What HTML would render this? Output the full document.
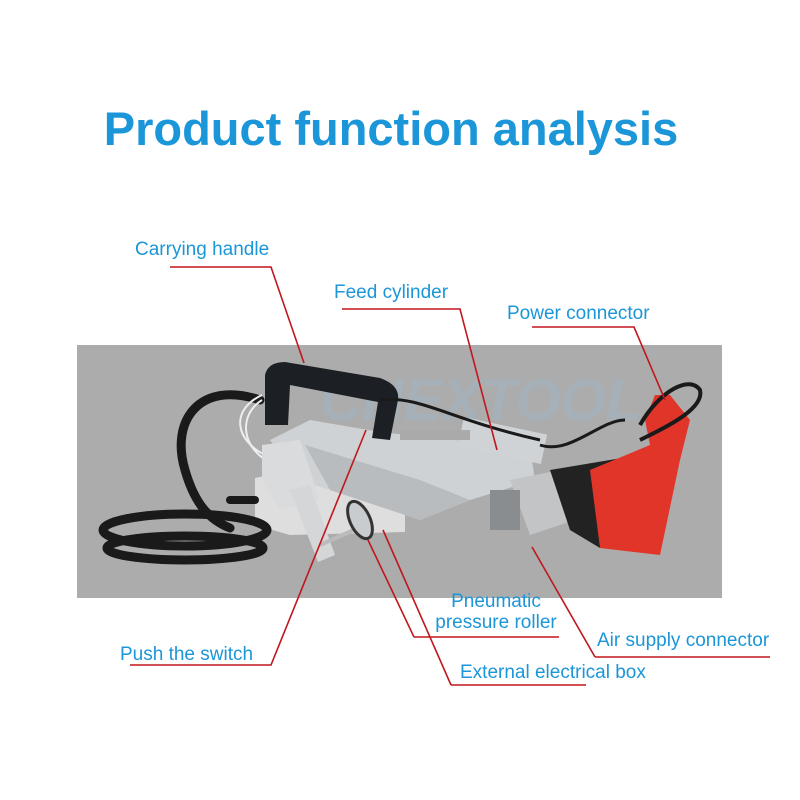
<!DOCTYPE html>
<html><head><meta charset="utf-8"><style>
html,body{margin:0;padding:0;background:#fff;width:800px;height:800px;overflow:hidden}
svg{display:block}
text{font-family:"Liberation Sans",sans-serif}
</style></head><body>
<svg width="800" height="800" viewBox="0 0 800 800" xmlns="http://www.w3.org/2000/svg">
<rect width="800" height="800" fill="#fff"/>
<text x="391" y="145" text-anchor="middle" font-size="47" font-weight="bold" fill="#1b96d8">Product function analysis</text>
<!-- gray background -->
<rect x="77" y="345" width="645" height="253" fill="#acacac"/>
<text x="320" y="420" font-size="58" font-weight="bold" font-style="italic" fill="#a0b4c4" opacity="0.5">CHEXTOOL</text>
<!-- white box -->
<polygon points="255,478 295,470 405,470 405,532 290,535 255,525" fill="#dedede"/>
<!-- hoses -->
<g fill="none" stroke="#1a1a1a" stroke-linecap="round">
<path d="M260,400 C200,380 170,420 185,470 C195,505 210,520 230,528" stroke-width="9"/>
<ellipse cx="185" cy="530" rx="82" ry="16" stroke-width="9"/>
<ellipse cx="185" cy="548" rx="78" ry="12" stroke-width="9"/>
<path d="M230,500 L255,500" stroke-width="8"/>
</g>
<!-- white air tubes -->
<path d="M262,395 C230,410 235,440 265,455" fill="none" stroke="#eee" stroke-width="2"/>
<path d="M262,400 C238,415 240,450 275,465" fill="none" stroke="#eee" stroke-width="2"/>
<!-- aluminum body -->
<polygon points="270,440 310,420 380,432 530,448 535,480 470,500 420,520 300,480" fill="#cfd2d4"/>
<polygon points="305,445 420,480 470,500 420,520 330,490" fill="#b9bcbf"/>
<polygon points="262,445 300,440 320,500 280,510 262,480" fill="#d9dbdd"/>
<polygon points="290,490 310,485 335,555 318,562" fill="#d4d6d8"/>
<line x1="320" y1="545" x2="365" y2="525" stroke="#bbb" stroke-width="4"/>
<ellipse cx="360" cy="520" rx="10" ry="20" fill="#c9ccce" stroke="#333" stroke-width="3" transform="rotate(-25 360 520)"/>
<rect x="460" y="425" width="85" height="30" fill="#d0d3d5" transform="rotate(12 500 440)"/>
<rect x="400" y="430" width="70" height="10" fill="#aaa"/>
<!-- handle -->
<path d="M265,425 L265,375 Q268,362 285,362 L380,378 Q400,385 398,400 L390,440 L372,438 L378,402 L290,385 L288,425 Z" fill="#1c1f24"/>
<!-- drill -->
<polygon points="510,480 560,470 575,520 530,535" fill="#c2c4c6"/>
<polygon points="550,470 640,455 650,475 648,540 600,548 570,530" fill="#222"/>
<polygon points="590,470 650,445 645,420 655,395 670,395 690,420 680,460 660,555 600,548" fill="#e2352a"/>
<path d="M640,425 C660,390 690,375 700,390 C705,410 660,430 640,440" fill="none" stroke="#1a1a1a" stroke-width="4"/>
<path d="M540,445 C570,455 600,420 625,420" fill="none" stroke="#1a1a1a" stroke-width="3"/>
<path d="M380,400 C420,395 450,420 540,440" fill="none" stroke="#1a1a1a" stroke-width="3"/>
<rect x="490" y="490" width="30" height="40" fill="#8a8d90"/>
<!-- leader lines -->
<g fill="none" stroke="#c0171d" stroke-width="1.6">
<polyline points="170,267 271,267 304,363"/>
<polyline points="342,309 460,309 497,450"/>
<polyline points="532,327 634,327 665,400"/>
<polyline points="414,637 559,637"/>
<line x1="414" y1="637" x2="368" y2="540"/>
<polyline points="595,657 770,657"/>
<line x1="595" y1="657" x2="532" y2="547"/>
<polyline points="451,685 586,685"/>
<line x1="451" y1="685" x2="383" y2="530"/>
<polyline points="130,665 271,665 366,430"/>
</g>
<g font-size="19" fill="#1b96d8">
<text x="135" y="255">Carrying handle</text>
<text x="334" y="298">Feed cylinder</text>
<text x="507" y="319">Power connector</text>
<text x="496" y="607" text-anchor="middle">Pneumatic</text>
<text x="496" y="628" text-anchor="middle">pressure roller</text>
<text x="597" y="646">Air supply connector</text>
<text x="120" y="660">Push the switch</text>
<text x="460" y="678">External electrical box</text>
</g>
</svg>
</body></html>
